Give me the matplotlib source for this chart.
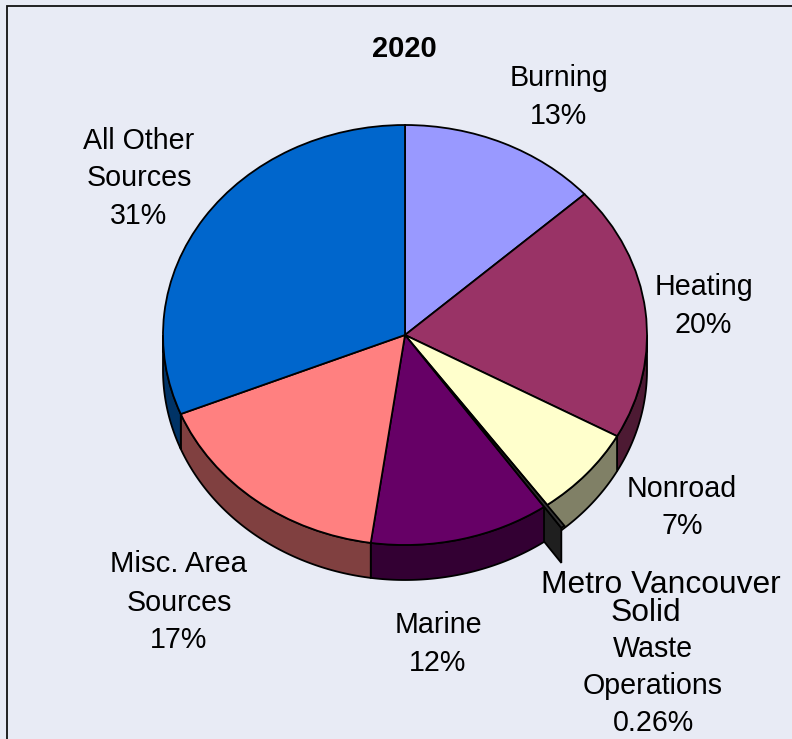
import numpy as np
import matplotlib
matplotlib.use("Agg")
import matplotlib.pyplot as plt
from matplotlib.patches import Rectangle

categories = ["Burning", "Heating", "Nonroad", "Metro Vancouver Solid Waste Operations",
              "Marine", "Misc. Area Sources", "All Other Sources"]
values = [13.3, 19.7, 7.0, 0.26, 12.0, 16.6, 31.14]
top_colors = ["#9999FF", "#993366", "#FFFFCC", "#333333", "#660066", "#FF8080", "#0066CC"]
side_colors = ["#4D4D80", "#4D1A33", "#808066", "#1F1F1F", "#330033", "#804040", "#003366"]
explode = [0, 0, 0, 0.123, 0, 0, 0]

W, H = 792, 739
CX, CY, RX, RY, DEPTH = 405, 335, 242, 210, 35
BG = "#E8EBF5"
plt.rcParams["font.family"] = ["Liberation Sans", "DejaVu Sans"]

fig = plt.figure(figsize=(W / 100, H / 100), dpi=100, facecolor=BG)
fig.add_artist(Rectangle((6.5 / W, -0.01), 1.0, 1.01 - 6.5 / H, transform=fig.transFigure,
                         fill=False, ec="#111111", lw=1.3))

# one data unit = the pie radius, so the circle becomes the tilted ellipse
ax = fig.add_axes([0, 0, 1, 1])
wedges, _ = ax.pie(values, colors=top_colors, startangle=90, counterclock=False, explode=explode,
                   wedgeprops=dict(edgecolor="black", linewidth=1.3))
ax.set_aspect("auto")
ax.set_xlim(-CX / RX, (W - CX) / RX)
ax.set_ylim((CY - H) / RY, CY / RY)
ax.set_axis_off()
d = DEPTH / RY


def side_wall(a0, a1, color, z):
    # front rim between two angles (degrees clockwise from the top)
    a0, a1 = max(a0, 90), min(a1, 270)
    if a1 <= a0:
        return
    t = np.radians(np.linspace(a0, a1, 80))
    x, y = np.sin(t), np.cos(t)
    ax.fill(np.r_[x, x[::-1]], np.r_[y, y[::-1] - d], fc=color, ec="black", lw=1.3, zorder=z)


edges = np.cumsum([0] + values) / sum(values) * 360
for i in range(len(values)):
    if i == 3:
        continue
    side_wall(edges[i], edges[i + 1], side_colors[i], 0.5 if i < 3 else 0.7)

# cut face of the pulled out slice, Marine's wall and top are drawn over it
mid = np.radians((edges[3] + edges[4]) / 2)
tip = explode[3] * np.array([np.sin(mid), np.cos(mid)])
rim = tip + [np.sin(np.radians(edges[4])), np.cos(np.radians(edges[4]))]
ax.fill([tip[0], rim[0], rim[0], tip[0]], [tip[1], rim[1], rim[1] - d, tip[1] - d],
        fc=side_colors[3], ec="black", lw=1.3, zorder=0.6)

for w in wedges:
    w.set_zorder(1)
wedges[3].set_zorder(1.2)


def label(x, y, txt, size=20.6, **kw):
    fig.text(x / W, 1 - y / H, txt, fontsize=size, ha="center", va="center", color="black", **kw)


label(404, 49, "2020", size=21, fontweight="bold")
label(559, 78, "Burning")
label(559, 116, "13%")
label(704, 287, "Heating")
label(703, 325, "20%")
label(682, 489, "Nonroad")
label(682, 526, "7%")
label(661, 585, "Metro Vancouver", size=22.9)
label(646, 613, "Solid", size=22.9)
label(653, 649, "Waste")
label(653, 686, "Operations")
label(653, 723, "0.26%")
label(438, 625, "Marine")
label(438, 663, "12%")
label(179, 564, "Misc. Area", size=21.2)
label(179, 603, "Sources")
label(179, 640, "17%")
label(139, 141, "All Other")
label(139, 178, "Sources")
label(139, 216, "31%")

fig.savefig("out.png", dpi=100, facecolor=BG)
